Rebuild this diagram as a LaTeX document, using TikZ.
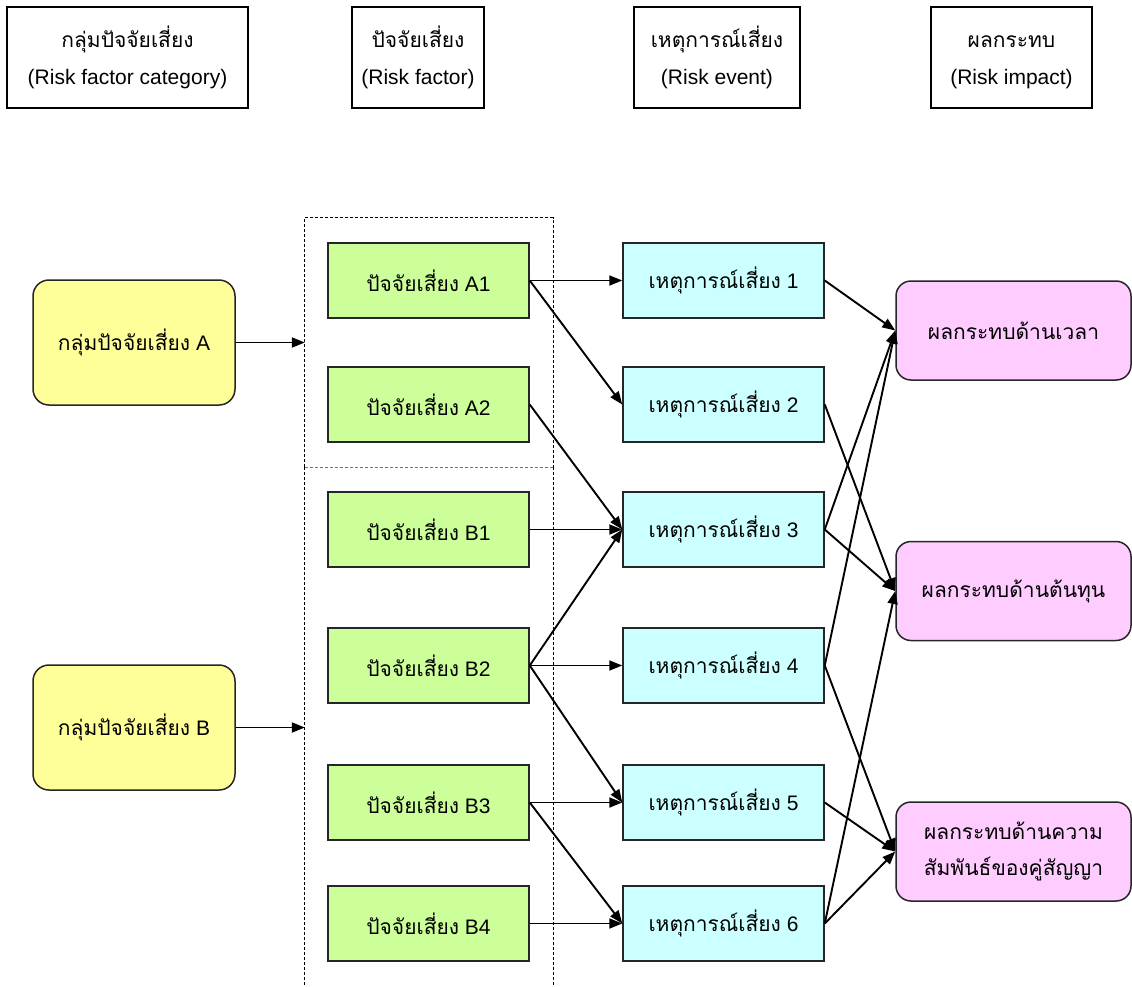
\documentclass[tikz,border=0pt]{standalone}
\usepackage{fontspec}
\setmainfont{Liberation Sans}
\newfontfamily\thaif[Script=Thai]{Loma}
\usetikzlibrary{arrows.meta}
\definecolor{facgreen}{RGB}{204,255,153}
\definecolor{evtcyan}{RGB}{204,255,255}
\definecolor{catyellow}{RGB}{255,255,153}
\definecolor{imppink}{RGB}{255,204,255}
\newcommand{\hstrut}{\rule[-8pt]{0pt}{30pt}}
\begin{document}
\begin{tikzpicture}[x=1pt,y=-1pt,
  every node/.style={font=\fontsize{21}{26}\selectfont, align=center, inner sep=0pt},
  hdr/.style={draw, line width=1.3pt, minimum height=101pt, font=\fontsize{21}{37}\selectfont},
  box/.style={draw=black!85, line width=1.5pt},
  fac/.style={box, fill=facgreen, minimum width=201pt, minimum height=75pt},
  evt/.style={box, fill=evtcyan, minimum width=201pt, minimum height=75pt},
  cat/.style={box, rounded corners=16pt, fill=catyellow, minimum width=202pt, minimum height=125pt},
  imp/.style={box, rounded corners=15pt, fill=imppink, minimum width=235pt, minimum height=99pt},
  grpbox/.style={minimum width=248pt},
  grpline/.style={line width=0.9pt, dash pattern=on 3pt off 2pt},
  arr/.style={line width=1.9pt, -{Triangle[length=13pt,width=10pt]}}
]
\useasboundingbox (0,0) rectangle (1132,986);
\fill[white] (0,0) rectangle (1132,986);

% headers
\node[hdr, minimum width=241pt] (h1) at (127.5,57.5) {\hstrut{\thaif กลุ่มปัจจัยเสี่ยง}\\(Risk factor category)};
\node[hdr, minimum width=132pt] (h2) at (418,57.5) {\hstrut{\thaif ปัจจัยเสี่ยง}\\(Risk factor)};
\node[hdr, minimum width=166pt] (h3) at (717,57.5) {\hstrut{\thaif เหตุการณ์เสี่ยง}\\(Risk event)};
\node[hdr, minimum width=161pt] (h4) at (1011.5,57.5) {\hstrut{\thaif ผลกระทบ}\\(Risk impact)};

% group boxes (outlines drawn below)
\node[grpbox, minimum height=249pt] (gA) at (429,342.5) {};
\node[grpbox, minimum height=560pt] (gB) at (429,747) {};
\draw[grpline] (gA.south west) -- (gA.north west) -- (gA.north east) -- (gA.south east);
\draw[grpline, black!55] (gA.south west) -- (gA.south east);
\draw[grpline] (gB.north west) -- (gB.south west);
\draw[grpline] (gB.north east) -- (gB.south east);

% categories
\node[cat] (cA) at (134,342.5) {{\thaif กลุ่มปัจจัยเสี่ยง} A};
\node[cat] (cB) at (134,727.5) {{\thaif กลุ่มปัจจัยเสี่ยง} B};

% factors
\node[fac] (A1) at (428.5,280.5) {{\thaif ปัจจัยเสี่ยง} A1};
\node[fac] (A2) at (428.5,404.5) {{\thaif ปัจจัยเสี่ยง} A2};
\node[fac] (B1) at (428.5,529.5) {{\thaif ปัจจัยเสี่ยง} B1};
\node[fac] (B2) at (428.5,665.5) {{\thaif ปัจจัยเสี่ยง} B2};
\node[fac] (B3) at (428.5,802.5) {{\thaif ปัจจัยเสี่ยง} B3};
\node[fac] (B4) at (428.5,923.5) {{\thaif ปัจจัยเสี่ยง} B4};

% events
\node[evt] (E1) at (723.5,280.5) {{\thaif เหตุการณ์เสี่ยง} 1};
\node[evt] (E2) at (723.5,404.5) {{\thaif เหตุการณ์เสี่ยง} 2};
\node[evt] (E3) at (723.5,529.5) {{\thaif เหตุการณ์เสี่ยง} 3};
\node[evt] (E4) at (723.5,665.5) {{\thaif เหตุการณ์เสี่ยง} 4};
\node[evt] (E5) at (723.5,802.5) {{\thaif เหตุการณ์เสี่ยง} 5};
\node[evt] (E6) at (723.5,923.5) {{\thaif เหตุการณ์เสี่ยง} 6};

% impacts
\node[imp, font=\thaif\fontsize{21}{36}\selectfont] (I1) at (1013.5,330.5) {ผลกระทบด้านเวลา};
\node[imp, font=\thaif\fontsize{21}{36}\selectfont] (I2) at (1013.5,591) {ผลกระทบด้านต้นทุน};
\node[imp, font=\thaif\fontsize{21}{36}\selectfont] (I3) at (1013.5,851.5) {ผลกระทบด้านความ\\สัมพันธ์ของคู่สัญญา};

% arrows category -> group
\draw[arr] (cA.east) -- (cA.east -| gA.west);
\draw[arr] (cB.east) -- (cB.east -| gB.west);

% factors -> events
\draw[arr] (A1.east) -- (E1.west);
\draw[arr] (A1.east) -- (E2.west);
\draw[arr] (A2.east) -- (E3.west);
\draw[arr] (B1.east) -- (E3.west);
\draw[arr] (B2.east) -- (E3.west);
\draw[arr] (B2.east) -- (E4.west);
\draw[arr] (B2.east) -- (E5.west);
\draw[arr] (B3.east) -- (E5.west);
\draw[arr] (B3.east) -- (E6.west);
\draw[arr] (B4.east) -- (E6.west);

% events -> impacts
\draw[arr] (E1.east) -- (I1.west);
\draw[arr] (E2.east) -- (I2.west);
\draw[arr] (E3.east) -- (I1.west);
\draw[arr] (E3.east) -- (I2.west);
\draw[arr] (E4.east) -- (I1.west);
\draw[arr] (E4.east) -- (I3.west);
\draw[arr] (E5.east) -- (I3.west);
\draw[arr] (E6.east) -- (I2.west);
\draw[arr] (E6.east) -- (I3.west);
\end{tikzpicture}
\end{document}
